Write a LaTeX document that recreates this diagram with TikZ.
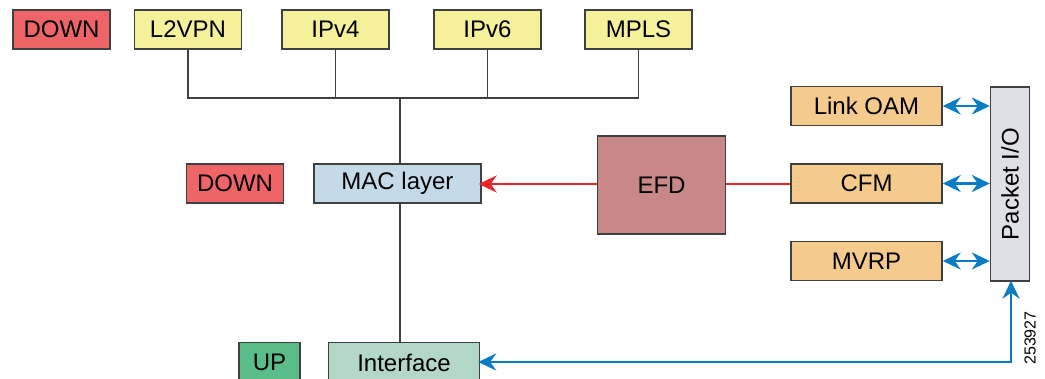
\documentclass[tikz,border=0pt]{standalone}
\usepackage{fontspec}
\setmainfont{Liberation Sans}
\usetikzlibrary{arrows.meta}
\definecolor{downred}{HTML}{EF6467}
\definecolor{protoyellow}{HTML}{F5F19B}
\definecolor{macblue}{HTML}{C4DBE7}
\definecolor{efdbrown}{HTML}{C88888}
\definecolor{oamorange}{HTML}{F4CB8C}
\definecolor{pktgrey}{HTML}{DFE0E5}
\definecolor{upgreen}{HTML}{58BD88}
\definecolor{ifgreen}{HTML}{B3D8C8}
\definecolor{boxline}{HTML}{404040}
\definecolor{sigred}{HTML}{E8252B}
\definecolor{sigblue}{HTML}{0A7CC4}
\tikzset{
  box/.style={draw=boxline, line width=1.4pt, inner sep=0pt, minimum height=39pt,
    font=\fontsize{24}{27}\selectfont},
  wire/.style={draw=boxline, line width=1.4pt},
  redsig/.style={draw=sigred, line width=2.6pt},
  bluesig/.style={draw=sigblue, line width=2.8pt},
  sigtip/.tip={Stealth[length=18pt,width=17pt,inset=6pt]}
}
\begin{document}
\begin{tikzpicture}[x=1pt,y=-1pt]
      \useasboundingbox (0,0) rectangle (1045,379);
      \clip (0,0) rectangle (1045,379);
      \draw
        (61.5,29.5) node[box,fill=downred,minimum width=97pt] (down1){DOWN}
        (188,29.5) node[box,fill=protoyellow,minimum width=107pt] (l2vpn){L2VPN}
        (335.5,29.5) node[box,fill=protoyellow,minimum width=107pt] (ipv4){IPv4}
        (487.5,29.5) node[box,fill=protoyellow,minimum width=107pt] (ipv6){IPv6}
        (638.5,29.5) node[box,fill=protoyellow,minimum width=107pt] (mpls){MPLS}
        (235,183.5) node[box,fill=downred,minimum width=97pt] (down2){DOWN}
        (397.5,183.5) node[box,fill=macblue,minimum width=167pt] (mac){MAC layer}
        (661.5,185) node[box,fill=efdbrown,minimum width=128pt,minimum height=98pt] (efd){EFD}
        (866.5,106) node[box,fill=oamorange,minimum width=151pt] (linkoam){Link OAM}
        (866.5,183.5) node[box,fill=oamorange,minimum width=151pt] (cfm){CFM}
        (866.5,261) node[box,fill=oamorange,minimum width=151pt] (mvrp){MVRP}
        (1010,184) node[box,fill=pktgrey,rotate=90,minimum width=194pt] (pktio){Packet I/O}
        (269.5,362.5) node[box,fill=upgreen,minimum width=61pt,minimum height=40pt] (up){UP}
        (404,362.5) node[box,fill=ifgreen,minimum width=151pt,minimum height=40pt] (iface){Interface}
        (1030,338) node[rotate=90,inner sep=0pt,font=\fontsize{16}{18}\selectfont] (figid){253927};
      \coordinate (bus) at (400,98);
      \coordinate (corner) at (1011,362);
      \begin{scope}[wire]
        \draw (l2vpn.south) |- (mpls.south |- bus) -- (mpls.south);
        \draw (ipv4.south) -- (ipv4.south |- bus);
        \draw (ipv6.south) -- (ipv6.south |- bus);
        \draw (bus) -- (bus |- mac.north);
        \draw (bus |- mac.south) -- (bus |- iface.north);
      \end{scope}
      \begin{scope}[redsig]
        \draw[-sigtip,shorten >=-3pt] (efd.west |- 0,184) -- (mac.east |- 0,184);
        \draw (efd.east |- 0,184) -- (cfm.west |- 0,184);
      \end{scope}
      \begin{scope}[bluesig,sigtip-sigtip]
        \draw (linkoam.east) -- (linkoam.east -| pktio.north);
        \draw (cfm.east) -- (cfm.east -| pktio.north);
        \draw (mvrp.east) -- (mvrp.east -| pktio.north);
        \draw[shorten <=-2pt,shorten >=-1pt] (iface.east |- corner) -- (corner) -- (corner |- pktio.west);
      \end{scope}
    \end{tikzpicture}
\end{document}
